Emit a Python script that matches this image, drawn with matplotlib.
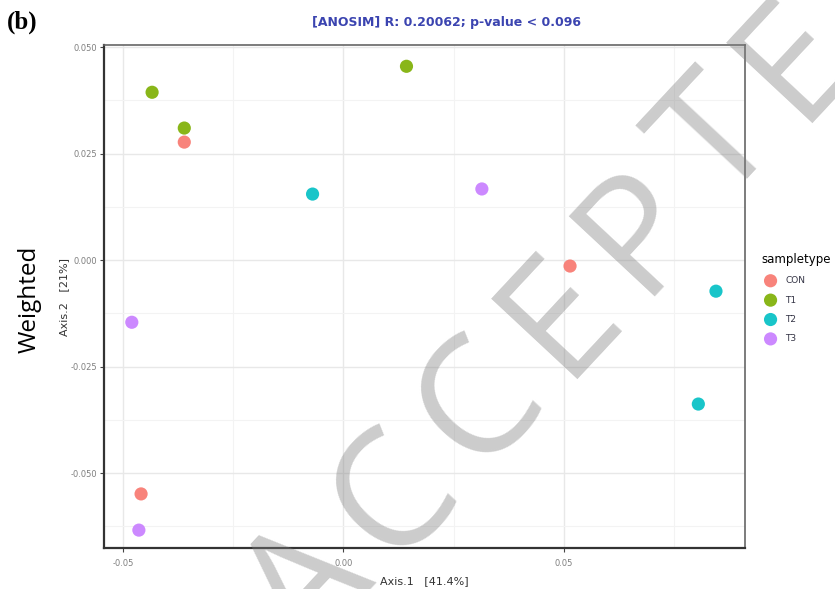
import matplotlib
matplotlib.use("Agg")
import numpy as np
import matplotlib.pyplot as plt
from matplotlib.ticker import FixedLocator, FixedFormatter

# PCoA coordinates per sample group (Axis.1, Axis.2)
groups = ["CON", "T1", "T2", "T3"]
colors = ["#F8766D", "#7CAE00", "#00BFC4", "#C77CFF"]
axis1 = {
    "CON": [-0.0361, -0.0459, 0.0514],
    "T1": [-0.0434, -0.0361, 0.0143],
    "T2": [-0.0070, 0.0845, 0.0805],
    "T3": [-0.0480, -0.0464, 0.0314],
}
axis2 = {
    "CON": [0.0277, -0.0549, -0.0014],
    "T1": [0.0394, 0.0310, 0.0455],
    "T2": [0.0155, -0.0073, -0.0338],
    "T3": [-0.0146, -0.0634, 0.0167],
}
xticks = [-0.05, 0.0, 0.05]
xticklabels = ["-0.05", "0.00", "0.05"]
yticks = [-0.05, -0.025, 0.0, 0.025, 0.05]
yticklabels = ["-0.050", "-0.025", "0.000", "0.025", "0.050"]

W, H = 835, 589
fig = plt.figure(figsize=(W / 100, H / 100), dpi=100)
ax = fig.add_axes([0.1246, 0.0696, 0.7677, 0.854])

for g, c in zip(groups, colors):
    ax.scatter(axis1[g], axis2[g], s=90, color=c, edgecolors="none", alpha=0.9,
               label=g, zorder=3)

ax.set_xlim(-0.0543, 0.0911)
ax.set_ylim(-0.0676, 0.0505)

ax.xaxis.set_major_locator(FixedLocator(xticks))
ax.xaxis.set_major_formatter(FixedFormatter(xticklabels))
ax.xaxis.set_minor_locator(FixedLocator([-0.025, 0.025, 0.075]))
ax.yaxis.set_major_locator(FixedLocator(yticks))
ax.yaxis.set_major_formatter(FixedFormatter(yticklabels))
ax.yaxis.set_minor_locator(FixedLocator([-0.0625, -0.0375, -0.0125, 0.0125, 0.0375]))

ax.grid(which="major", color="#e8e8e8", linewidth=1.0)
ax.grid(which="minor", color="#f3f3f3", linewidth=0.8)
ax.set_axisbelow(True)
ax.tick_params(which="major", length=3, width=0.8, color="#444444",
               labelsize=6, labelcolor="#7f7f7f", pad=2)
ax.tick_params(axis="x", which="major", pad=5)
ax.tick_params(which="minor", length=0)
for side in ["left", "bottom"]:
    ax.spines[side].set_color("#333333")
    ax.spines[side].set_linewidth(1.6)
for side in ["top", "right"]:
    ax.spines[side].set_color("#666666")
    ax.spines[side].set_linewidth(1.2)

ax.set_xlabel("Axis.1   [41.4%]", fontsize=8, color="#333333", labelpad=6)
ax.set_ylabel("Axis.2   [21%]", fontsize=8, color="#333333", labelpad=1)

leg = ax.legend(title="sampletype", loc="center left", bbox_to_anchor=(1.013, 0.497),
                frameon=False, fontsize=6.5, title_fontsize=8.5, handletextpad=0.6,
                labelspacing=1.15, markerscale=1.0)
leg._legend_box.align = "left"
for t in leg.get_texts():
    t.set_color("#333344")

fig.text(0.535, 0.962, "[ANOSIM] R: 0.20062; p-value < 0.096", ha="center", va="center",
         fontsize=9, fontweight="bold", color="#3b44b0")
fig.text(0.008, 0.962, "(b)", ha="left", va="center", fontsize=18, fontweight="bold",
         family="Liberation Serif")
fig.text(0.036, 0.491, "Weighted", rotation=90, ha="center", va="center", fontsize=17.5,
         family="Open Sans")

# watermark, letter by letter so the spacing can be widened
word = "ACCEPTED"
adv = {"A": 0.648, "C": 0.633, "E": 0.556, "P": 0.603, "T": 0.556, "D": 0.738}
em = 165.0          # pixels
track = 0.13        # extra spacing, in em
ang = np.deg2rad(47.5)
ux, uy = np.cos(ang), -np.sin(ang)
cx, cy = 396.0, 497.0   # centre of the first C
pos = [0.0]
for a, b in zip(word[:-1], word[1:]):
    pos.append(pos[-1] + (adv[a] / 2 + adv[b] / 2 + track) * em)
pos = np.array(pos) - pos[1]
for ch, d in zip(word, pos):
    px, py = cx + d * ux, cy + d * uy
    fig.text(px / W, 1 - py / H, ch, rotation=47, rotation_mode="anchor",
             ha="center", va="center", fontsize=em * 72 / 100, color="#808080",
             alpha=0.4, family="Open Sans", zorder=10)

fig.savefig("out.png", dpi=100)
